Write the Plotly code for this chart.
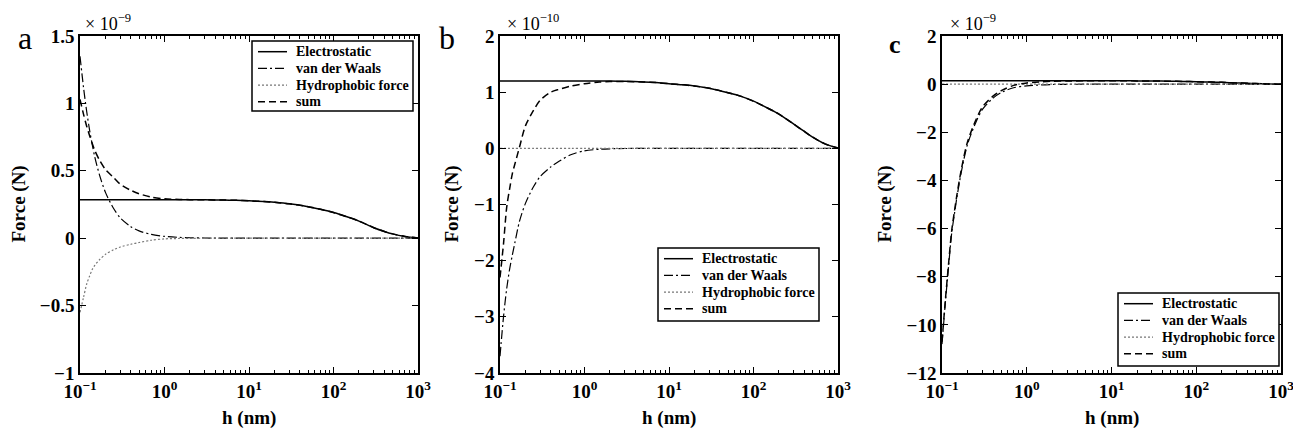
import plotly.graph_objects as go

# separation h (nm)
h = [0.1, 0.11, 0.12, 0.13, 0.14, 0.15, 0.17, 0.2, 0.25, 0.3, 0.4, 0.5, 0.7,
     1, 1.5, 2, 3, 5, 7, 10, 15, 20, 30, 50, 70, 100, 150, 200, 300, 400, 500, 700, 1000]

# Panel a (x 1e-9 N)
a_elec = [0.285, 0.285, 0.285, 0.285, 0.285, 0.285, 0.285, 0.285, 0.285, 0.285, 0.285, 0.285, 0.285,
          0.285, 0.285, 0.285, 0.285, 0.283, 0.281, 0.277, 0.272, 0.266, 0.255, 0.234, 0.214, 0.19,
          0.155, 0.127, 0.078, 0.050, 0.032, 0.013, 0.002]
a_vdw = [1.35, 1.12, 0.94, 0.80, 0.69, 0.60, 0.47, 0.34, 0.22, 0.15, 0.085, 0.054, 0.028,
         0.0135, 0.006, 0.0034, 0.0015, 0.0005, 0.0003, 0.0001, 0, 0, 0, 0, 0, 0,
         0, 0, 0, 0, 0, 0, 0]
a_hyd = [-0.55, -0.44, -0.34, -0.28, -0.23, -0.20, -0.16, -0.12, -0.085, -0.065, -0.045, -0.032, -0.015,
         -0.005, -0.002, -0.001, 0, 0, 0, 0, 0, 0, 0, 0, 0, 0,
         0, 0, 0, 0, 0, 0, 0]
a_sum = [1.03, 0.92, 0.83, 0.76, 0.70, 0.65, 0.58, 0.51, 0.45, 0.40, 0.355, 0.33, 0.305,
         0.292, 0.288, 0.286, 0.285, 0.283, 0.281, 0.277, 0.272, 0.266, 0.255, 0.234, 0.214, 0.19,
         0.155, 0.127, 0.078, 0.050, 0.032, 0.013, 0.002]

# Panel b (x 1e-10 N)
b_elec = [1.20, 1.20, 1.20, 1.20, 1.20, 1.20, 1.20, 1.20, 1.20, 1.20, 1.20, 1.20, 1.20,
          1.20, 1.20, 1.198, 1.193, 1.182, 1.17, 1.15, 1.13, 1.11, 1.07, 0.99, 0.93, 0.84,
          0.71, 0.61, 0.43, 0.30, 0.20, 0.08, 0.005]
b_vdw = [-3.7, -3.0, -2.5, -2.15, -1.9, -1.68, -1.3, -0.98, -0.68, -0.5, -0.33, -0.23, -0.11,
         -0.045, -0.016, -0.008, -0.003, -0.001, 0, 0, 0, 0, 0, 0, 0, 0,
         0, 0, 0, 0, 0, 0, 0]
b_hyd = [0] * 33
b_sum = [-2.3, -1.7, -1.05, -0.72, -0.45, -0.28, 0.02, 0.40, 0.68, 0.86, 1.0, 1.05, 1.11,
         1.15, 1.18, 1.19, 1.19, 1.182, 1.17, 1.15, 1.13, 1.11, 1.07, 0.99, 0.93, 0.84,
         0.71, 0.61, 0.43, 0.30, 0.20, 0.08, 0.005]

# Panel c (x 1e-9 N)
c_elec = [0.14, 0.14, 0.14, 0.14, 0.14, 0.14, 0.14, 0.14, 0.14, 0.14, 0.14, 0.14, 0.14,
          0.14, 0.14, 0.14, 0.14, 0.14, 0.14, 0.14, 0.138, 0.135, 0.13, 0.12, 0.11, 0.10,
          0.085, 0.075, 0.05, 0.035, 0.025, 0.01, 0.0]
c_vdw = [-10.8, -9.0, -7.5, -6.2, -5.4, -4.7, -3.6, -2.5, -1.6, -1.05, -0.58, -0.35, -0.15,
         -0.07, -0.03, -0.015, -0.006, -0.002, -0.001, 0, 0, 0, 0, 0, 0, 0,
         0, 0, 0, 0, 0, 0, 0]
c_hyd = [0] * 33
c_sum = [-10.7, -8.9, -7.4, -6.1, -5.3, -4.6, -3.5, -2.4, -1.5, -0.95, -0.5, -0.27, -0.05,
         0.05, 0.1, 0.12, 0.13, 0.138, 0.14, 0.14, 0.138, 0.135, 0.13, 0.12, 0.11, 0.10,
         0.085, 0.075, 0.05, 0.035, 0.025, 0.01, 0.0]

series_names = ["Electrostatic", "van der Waals", "Hydrophobic force", "sum"]

y_ticks = {
    "a": ([-1, -0.5, 0, 0.5, 1, 1.5], ["\u22121", "\u22120.5", "0", "0.5", "1", "1.5"], [-1, 1.5]),
    "b": ([-4, -3, -2, -1, 0, 1, 2], ["\u22124", "\u22123", "\u22122", "\u22121", "0", "1", "2"], [-4, 2]),
    "c": ([-12, -10, -8, -6, -4, -2, 0, 2],
          ["\u221212", "\u221210", "\u22128", "\u22126", "\u22124", "\u22122", "0", "2"], [-12, 2]),
}
x_tickvals = [0.1, 1, 10, 100, 1000]
x_ticktext = ["10<sup>\u22121</sup>", "10<sup>0</sup>", "10<sup>1</sup>", "10<sup>2</sup>", "10<sup>3</sup>"]
minor_vals = [m * 10 ** k for k in range(-1, 3) for m in range(2, 10)]

# the page body has an 8px margin; the figure is sized to fill the rest of the window
OFF = 8
W, H = 1301 - OFF, 437 - OFF
panels = [
    dict(key="a", data=[a_elec, a_vdw, a_hyd, a_sum], x0=80, x1=418, exp="\u00d7 10<sup>\u22129</sup>",
         expx=83, letter="a", letx=25, lety=38, letbold=False, ytitlex=18,
         legx=252, legy=41, legh=70),
    dict(key="b", data=[b_elec, b_vdw, b_hyd, b_sum], x0=500, x1=838, exp="\u00d7 10<sup>\u221210</sup>",
         expx=505, letter="b", letx=447, lety=38, letbold=False, ytitlex=451,
         legx=658, legy=248, legh=73),
    dict(key="c", data=[c_elec, c_vdw, c_hyd, c_sum], x0=942, x1=1281, exp="\u00d7 10<sup>\u22129</sup>",
         expx=948, letter="c", letx=895, lety=44, letbold=True, ytitlex=884,
         legx=1118, legy=293, legh=73),
]
top, bot = 36, 373

styles = [
    dict(color="black", width=1.5, dash="solid"),
    dict(color="black", width=1.2, dash="9px,3px,2px,3px"),
    dict(color="#777777", width=1.2, dash="2px,2px"),
    dict(color="black", width=1.5, dash="7px,4px"),
]

SERIF = "Liberation Serif"
fig = go.Figure()
annotations = []
shapes = []
layout = {}


def px(x):
    return (x - OFF) / W


def py(y):
    return 1 - (y - OFF) / H


for i, p in enumerate(panels):
    n = "" if i == 0 else str(i + 1)
    for j, (name, vals) in enumerate(zip(series_names, p["data"])):
        fig.add_trace(go.Scatter(
            x=h, y=vals, mode="lines", name=name, line=dict(shape="spline", smoothing=0.8, **styles[j]),
            xaxis="x" + n, yaxis="y" + n, showlegend=False))
    tv, tt, yr = y_ticks[p["key"]]
    common = dict(showgrid=False, zeroline=False, showline=True, linecolor="black", linewidth=1.5,
                  mirror="ticks", ticks="inside", ticklen=6, tickcolor="black", tickwidth=1,
                  automargin=False,
                  tickfont=dict(family=SERIF, size=19, color="black"))
    layout["xaxis" + n] = dict(type="log", range=[-1, 3], domain=[px(p["x0"]), px(p["x1"])],
                               anchor="y" + n, tickvals=x_tickvals,
                               ticktext=["<b>" + t + "</b>" for t in x_ticktext],
                               minor=dict(tickvals=minor_vals, ticks="inside", ticklen=3,
                                          tickcolor="black", showgrid=False), **common)
    layout["yaxis" + n] = dict(range=yr, domain=[py(bot), py(top)], anchor="x" + n,
                               tickvals=tv, ticktext=["<b>" + t + "</b>" for t in tt], **common)

    # legend box (drawn as shapes + text)
    lx, ly, lh = p["legx"], p["legy"], p["legh"]
    lw = 161
    shapes.append(dict(type="rect", xref="paper", yref="paper", x0=px(lx), x1=px(lx + lw),
                       y0=py(ly + lh), y1=py(ly), line=dict(color="black", width=1.5),
                       fillcolor="white", layer="above"))
    row_h = 16.7
    for j, name in enumerate(series_names):
        yc = ly + 10.7 + row_h * j
        shapes.append(dict(type="line", xref="paper", yref="paper", x0=px(lx + 6), x1=px(lx + 35),
                           y0=py(yc), y1=py(yc), line=styles[j], layer="above"))
        annotations.append(dict(text="<b>" + name + "</b>", x=px(lx + 42), y=py(yc), xref="paper",
                                yref="paper", showarrow=False, xanchor="left", yanchor="middle",
                                font=dict(family=SERIF, size=14, color="black")))

    # exponent label
    annotations.append(dict(text=p["exp"], x=px(p["expx"]), y=py(22), xref="paper", yref="paper",
                            showarrow=False, xanchor="left", yanchor="middle",
                            font=dict(family=SERIF, size=18, color="black")))
    # panel letter
    letter_txt = "<b>" + p["letter"] + "</b>" if p["letbold"] else p["letter"]
    annotations.append(dict(text=letter_txt, x=px(p["letx"]), y=py(p["lety"]), xref="paper",
                            yref="paper", showarrow=False, xanchor="center", yanchor="middle",
                            font=dict(family=SERIF, size=26 if p["letbold"] else 32, color="black")))
    # axis titles
    annotations.append(dict(text="<b>Force (N)</b>", x=px(p["ytitlex"]), y=py((top + bot) / 2),
                            xref="paper", yref="paper", showarrow=False, textangle=-90,
                            xanchor="center", yanchor="middle",
                            font=dict(family=SERIF, size=19, color="black")))
    annotations.append(dict(text="<b>h (nm)</b>", x=px((p["x0"] + p["x1"]) / 2), y=py(418),
                            xref="paper", yref="paper", showarrow=False,
                            xanchor="center", yanchor="middle",
                            font=dict(family=SERIF, size=19, color="black")))

fig.update_layout(width=W, height=H, margin=dict(l=0, r=0, t=0, b=0, autoexpand=False),
                  paper_bgcolor="white", plot_bgcolor="white", showlegend=False,
                  annotations=annotations, shapes=shapes, **layout)
fig.write_html("out.html")
